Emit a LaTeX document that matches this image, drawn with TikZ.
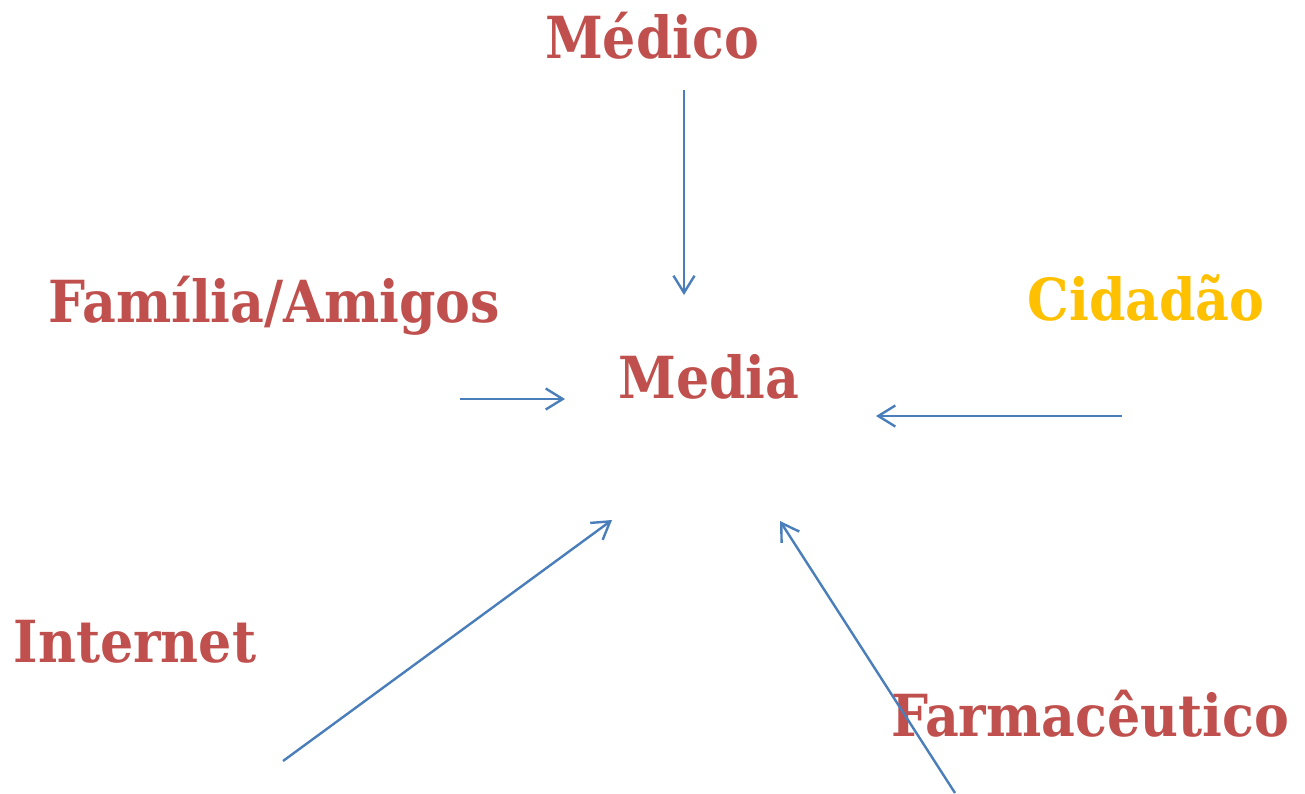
\documentclass[tikz,border=0pt]{standalone}
\usepackage{fontspec}
\setmainfont{DejaVu Serif Condensed}
\usetikzlibrary{arrows.meta}
\definecolor{actorred}{HTML}{C0504D}
\definecolor{actorgold}{HTML}{FFC000}
\definecolor{linkblue}{HTML}{4A7EBB}
\begin{document}
\begin{tikzpicture}[x=1pt,y=-1pt,inner sep=0pt,
    actor/.style={text=actorred,font=\bfseries\fontsize{58}{60}\selectfont,anchor=base},
    link/.style={draw=linkblue,line width=2.4pt,-{Straight Barb[length=17pt,width=21pt,line width=2.4pt]}}]
\useasboundingbox (0,0) rectangle (1305,793);
% sources round the media
\node[actor] (medico) at (652,58) {Médico};
\node[actor] (familia) at (274,322) {Família/Amigos};
\node[actor,text=actorgold] (cidadao) at (1146,320) {Cidadão};
\node[actor] (media) at (709,398) {Media};
\node[actor] (internet) at (135,662) {Internet};
\node[actor] (farma) at (1090,736) {Farmacêutico};
% arrow ends
\coordinate (medico-out) at (684,90);   \coordinate (media-n) at (684,295);
\coordinate (familia-out) at (460,399); \coordinate (media-w) at (565,399);
\coordinate (cidadao-out) at (1122,416); \coordinate (media-e) at (876,416);
\coordinate (internet-out) at (283,761); \coordinate (media-sw) at (612,520);
\coordinate (farma-out) at (955,793);   \coordinate (media-se) at (780,521);
\draw[link] (medico-out) -- (media-n);
\draw[link] (familia-out) -- (media-w);
\draw[link] (cidadao-out) -- (media-e);
\draw[link] (internet-out) -- (media-sw);
\draw[link] (farma-out) -- (media-se);
\end{tikzpicture}
\end{document}
